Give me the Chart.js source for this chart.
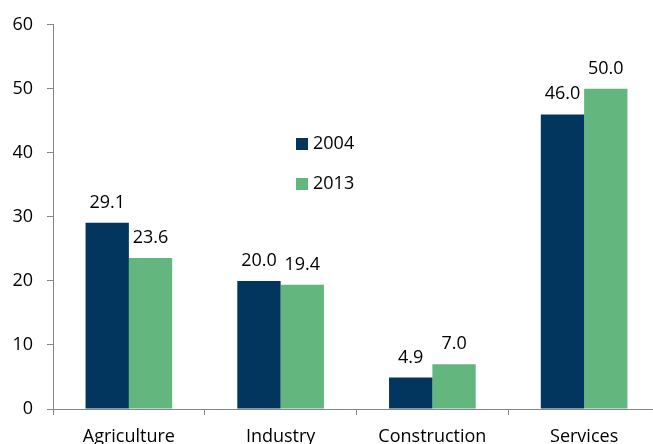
<!DOCTYPE html>
<html>
<head>
<meta charset="utf-8">
<script src="https://cdn.jsdelivr.net/npm/chart.js@4"></script>
<style>
  html, body { margin: 0; padding: 0; overflow: hidden; background: #fff; }
  #wrap { position: relative; width: 653px; height: 444px; overflow: hidden; }
  canvas { position: absolute; left: 0; top: 0; }
  .legend { position: absolute; left: 296px; font-family: 'Open Sans', sans-serif; font-size: 18px; color: #000; line-height: 18px; }
  .legend span { display: inline-block; width: 12px; height: 12px; margin-right: 5px; vertical-align: -1px; }
</style>
</head>
<body>
<div id="wrap">
  <canvas id="sectorChart" width="660" height="460"></canvas>
  <div class="legend" style="top:133px"><span style="background:#02365f"></span>2004</div>
  <div class="legend" style="top:173px"><span style="background:#63b77e"></span>2013</div>
</div>
<script>
// Sector shares, 2004 vs 2013
const categories = ['Agriculture', 'Industry', 'Construction', 'Services'];
const values2004 = [29.1, 20.0, 4.9, 46.0];
const values2013 = [23.6, 19.4, 7.0, 50.0];
const yTicks = [0, 10, 20, 30, 40, 50, 60];

const axisColor = '#868686';
const fontFamily = "'Open Sans', sans-serif";

// Value labels above each bar
const barLabels = {
    id: 'barLabels',
    afterDatasetsDraw(chart) {
        const ctx = chart.ctx;
        ctx.save();
        ctx.font = '18px ' + fontFamily;
        ctx.fillStyle = '#000';
        ctx.textAlign = 'center';
        ctx.textBaseline = 'alphabetic';
        chart.data.datasets.forEach((ds, i) => {
            chart.getDatasetMeta(i).data.forEach((bar, j) => {
                ctx.fillText(ds.data[j].toFixed(1), bar.x, bar.y - 15);
            });
        });
        ctx.restore();
    }
};

new Chart(document.getElementById('sectorChart').getContext('2d'), {
    type: 'bar',
    data: {
        labels: categories,
        datasets: [
            { label: '2004', data: values2004, backgroundColor: '#02365f' },
            { label: '2013', data: values2013, backgroundColor: '#63b77e' }
        ]
    },
    options: {
        responsive: false,
        animation: false,
        layout: { padding: { top: 12, left: 0, right: 0, bottom: 0 } },
        datasets: { bar: { categoryPercentage: 0.571, barPercentage: 1.0 } },
        plugins: { legend: { display: false }, tooltip: { enabled: false } },
        scales: {
            x: {
                grid: { offset: true, drawOnChartArea: false, tickLength: 6, color: axisColor },
                border: { color: axisColor },
                ticks: { color: '#000', font: { family: fontFamily, size: 18 }, padding: 11 },
                afterFit: s => { s.height = 51; }
            },
            y: {
                min: 0,
                max: 60,
                afterBuildTicks: s => { s.ticks = yTicks.map(v => ({ value: v })); },
                grid: { drawOnChartArea: false, tickLength: 6, color: axisColor },
                border: { color: axisColor },
                ticks: { color: '#000', font: { family: fontFamily, size: 18 }, padding: 14 },
                afterFit: s => { s.width = 53; }
            }
        }
    },
    plugins: [barLabels]
});
</script>
</body>
</html>
